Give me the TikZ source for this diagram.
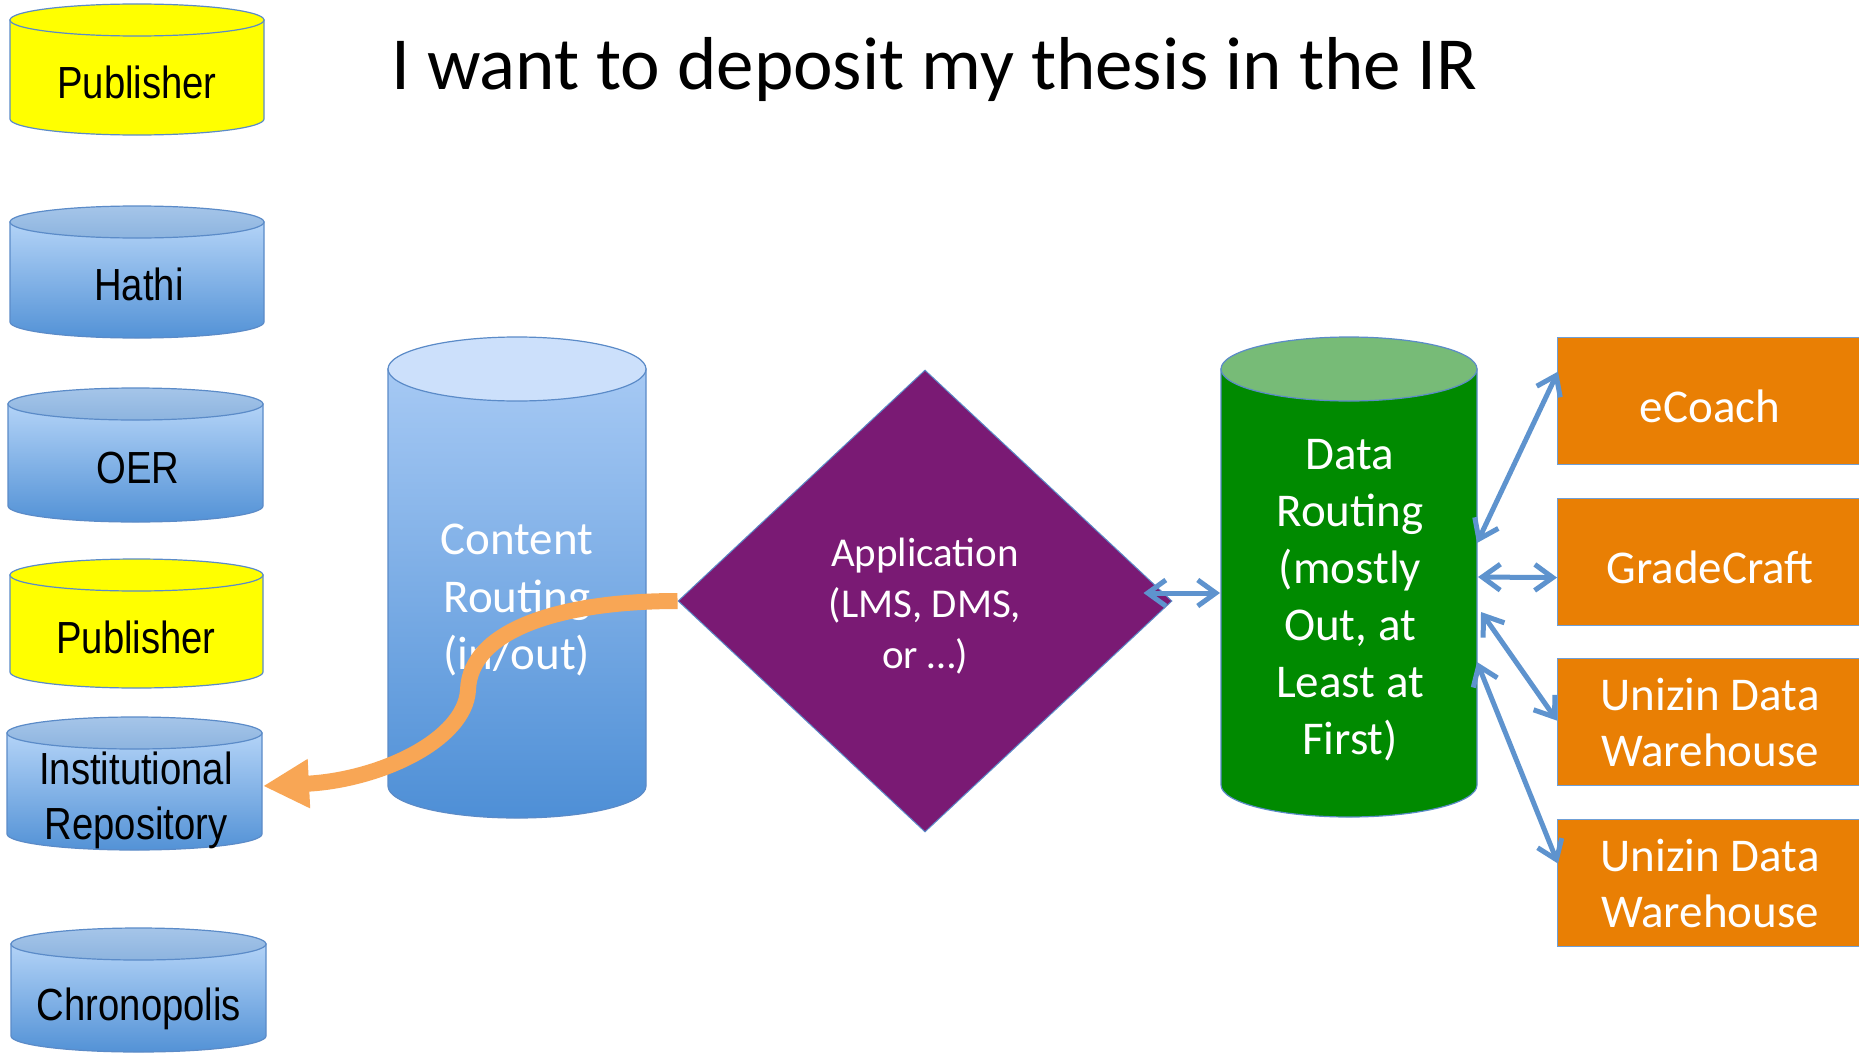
\documentclass[tikz,border=0pt]{standalone}
\usepackage{fontspec}
\setmainfont{Carlito}
\newfontfamily\narrowsans[FakeStretch=0.85]{Liberation Sans}
\usetikzlibrary{shapes.geometric,arrows.meta,calc}
\definecolor{cylline}{HTML}{5B8BC8}
\definecolor{crtop}{HTML}{A6C9F4}
\definecolor{crbot}{HTML}{4E8FD6}
\definecolor{crcap}{HTML}{CCE0FB}
\definecolor{smtop}{HTML}{B3D3F7}
\definecolor{smbot}{HTML}{5392D6}
\definecolor{smcaptop}{HTML}{A5C5E9}
\definecolor{smcapbot}{HTML}{8DB4DF}
\definecolor{pubyellow}{HTML}{FFFF00}
\definecolor{drgreen}{HTML}{008A00}
\definecolor{drcap}{HTML}{77BB77}
\definecolor{appcol}{HTML}{7A1A74}
\definecolor{boxorange}{HTML}{E97F04}
\definecolor{boxline}{HTML}{6F9FD6}
\definecolor{linkblue}{HTML}{5E93CE}
\definecolor{flow}{HTML}{F8A655}
\newcommand\dbcyl[7]{%
  \pgfmathsetmacro\cylrx{(#2-#1)/2}%
  \pgfmathsetmacro\cylcx{(#2+#1)/2}%
  \pgfmathsetmacro\cylyt{#3+#5}%
  \pgfmathsetmacro\cylyb{#4-#5}%
  \path[#6] (#1,\cylyt) -- (#1,\cylyb) arc[start angle=180,end angle=360,x radius=\cylrx pt,y radius=#5pt] -- (#2,\cylyt) -- cycle;
  \path[#7] (\cylcx,\cylyt) ellipse[x radius=\cylrx pt,y radius=#5pt];
}
\begin{document}
\begin{tikzpicture}[x=1pt,y=-1pt,
  cylbody/.style={draw=cylline,line width=1.2pt},
  bluebody/.style={cylbody,top color=smtop,bottom color=smbot},
  bluecap/.style={cylbody,top color=smcaptop,bottom color=smcapbot},
  yellowpart/.style={cylbody,fill=pubyellow},
  leftlabel/.style={font=\narrowsans\fontsize{45}{55}\selectfont,text=black,anchor=base,inner sep=0pt},
  whitelabel/.style={font=\fontsize{47}{57}\selectfont,text=white,align=center,inner sep=0pt},
  orangebox/.style={rectangle,fill=boxorange,draw=boxline,line width=1.2pt,minimum width=305pt,minimum height=127pt,anchor=north west,inner sep=0pt,font=\fontsize{47}{56}\selectfont,text=white,align=center},
  oneline/.style={text height=43pt,text depth=0pt},
  link/.style={draw=linkblue,line width=5pt,arrows={Straight Barb[length=18pt,width=26pt]-Straight Barb[length=18pt,width=26pt]}},
  flowarrow/.style={draw=flow,line width=16pt,arrows={-Triangle[length=46pt,width=46pt]}},
  hidden/.style={inner sep=0pt,outer sep=0pt}]
\useasboundingbox (0,0) rectangle (1859,1057);
\fill[white] (0,0) rectangle (1859,1057);

% title
\node[anchor=base west,inner sep=0pt,font=\fontsize{75}{80}\selectfont] (title) at (391,89) {I want to deposit my thesis in the IR};

% left repositories
\dbcyl{10}{264}{4}{135}{16}{yellowpart}{yellowpart}
\dbcyl{10}{264}{206}{338}{16}{bluebody}{bluecap}
\dbcyl{8}{263}{388}{522}{16}{bluebody}{bluecap}
\dbcyl{10}{263}{559}{688}{16}{yellowpart}{yellowpart}
\dbcyl{7}{262}{717}{850}{16}{bluebody}{bluecap}
\dbcyl{11}{266}{928}{1052}{16}{bluebody}{bluecap}
\node[hidden,minimum width=255pt,minimum height=133pt] (ir) at (134.5,783.5) {};

\node[leftlabel] (pub1t) at (137,98) {Publisher};
\node[leftlabel] (hathit) at (139,300) {Hathi};
\node[leftlabel] (oert) at (138,483) {OER};
\node[leftlabel] (pub2t) at (136,653) {Publisher};
\node[leftlabel,anchor=center,align=center] (irt) at (136,800) {Institutional\\Repository};
\node[leftlabel] (chronot) at (139,1020) {Chronopolis};

% content routing
\dbcyl{388}{646}{337}{818}{32}{cylbody,top color=crtop,bottom color=crbot}{cylbody,fill=crcap}
\node[whitelabel] (crt) at (517,600) {Content\\Routing\\(in/out)};

% application
\node[diamond,fill=appcol,draw=cylline,line width=1pt,minimum width=494pt,minimum height=462pt,inner sep=0pt] (app) at (925,601) {};
\node[whitelabel,font=\fontsize{41}{51}\selectfont] (appt) at (925,606) {Application\\(LMS, DMS,\\or …)};

% data routing
\dbcyl{1221}{1477}{337}{817}{32}{cylbody,fill=drgreen}{cylbody,fill=drcap}
\node[hidden,minimum width=256pt,minimum height=480pt] (dr) at (1349,577) {};
\node[whitelabel] (drt) at (1350,600) {Data\\Routing\\(mostly\\Out, at\\Least at\\First)};

% targets
\node[orangebox,oneline] (ecoach) at (1557,337) {eCoach};
\node[orangebox,oneline] (grade) at (1557,498) {GradeCraft};
\node[orangebox] (uz1) at (1557,658) {Unizin Data\\Warehouse};
\node[orangebox] (uz2) at (1557,819) {Unizin Data\\Warehouse};

% connectors
\draw[link] ($(app.east)+(-29,-8)$) -- ($(dr.west)+(-1,16)$);
\draw[link] ($(dr.east)+(0,-34)$) -- ($(ecoach.west)+(1,-29.5)$);
\draw[link] ($(dr.east)+(1,0)$) -- ($(grade.west)+(0,15.5)$);
\draw[link] ($(dr.east)+(4,35)$) -- ($(uz1.west)+(0,-1.5)$);
\draw[link] ($(dr.east)+(0,85)$) -- ($(uz2.west)+(1,-19.5)$);

\draw[flowarrow] (app.west) .. controls (560,601) and (470,630) .. (468,690) .. controls (465,740) and (380,780) .. ($(ir.east)+(1,2.5)$);
\end{tikzpicture}
\end{document}
